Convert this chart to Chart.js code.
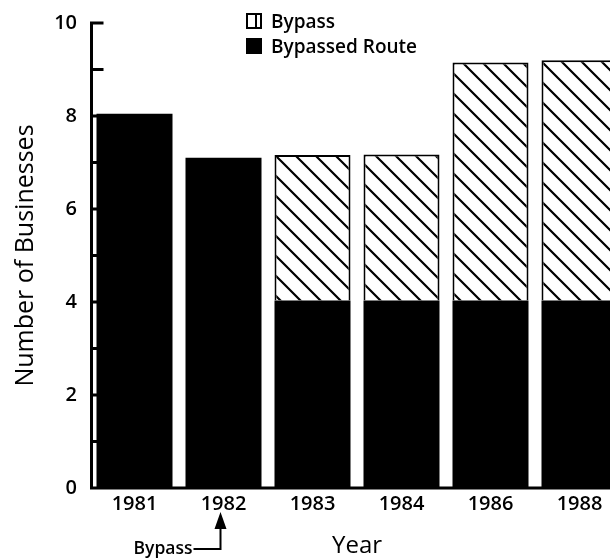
<!DOCTYPE html>
<html>
<head>
<meta charset="utf-8">
<script src="https://cdn.jsdelivr.net/npm/chart.js@4/dist/chart.umd.min.js"></script>
<style>
  html, body { margin: 0; padding: 0; background: #fff; overflow: hidden; width: 610px; height: 558px; }
  canvas { display: block; }
</style>
</head>
<body>
<canvas id="chart" width="630" height="558"></canvas>
<script>
// data
const years = ['1981', '1982', '1983', '1984', '1986', '1988'];
const bypassedRoute = [8.05, 7.1, 4.03, 4.03, 4.03, 4.03];
const bypass = [null, null, 3.13, 3.14, 5.12, 5.17];
const yTicks = [0, 2, 4, 6, 8, 10];
const bypassOpenedIndex = 1; // arrow under 1982
const arrowLabel = 'Bypass';

const FONT = '"Open Sans", "DejaVu Sans", sans-serif';

// diagonal hatch like the print
function makeHatch() {
    const c = document.createElement('canvas');
    c.width = 20; c.height = 20;
    const g = c.getContext('2d');
    g.fillStyle = '#fff';
    g.fillRect(0, 0, 20, 20);
    g.strokeStyle = '#000';
    g.lineWidth = 2.2;
    g.beginPath();
    g.moveTo(-5, -5); g.lineTo(25, 25);
    g.moveTo(-5, 15); g.lineTo(5, 25);
    g.moveTo(15, -5); g.lineTo(25, 5);
    g.stroke();
    return g.createPattern(c, 'repeat');
}

// axis lines, inward ticks, legend and the bypass arrow
const decorations = {
    id: 'decorations',
    afterDraw(chart) {
        const ctx = chart.ctx;
        const area = chart.chartArea;
        const y = chart.scales.y;
        const x = chart.scales.x;
        ctx.save();
        ctx.strokeStyle = '#000';
        ctx.lineWidth = 3;

        // y axis and ticks
        const ax = area.left + 1.5;
        ctx.beginPath();
        ctx.moveTo(ax, y.getPixelForValue(10) - 1.5);
        ctx.lineTo(ax, y.getPixelForValue(0) + 1.5);
        for (let v = 0; v <= 10; v++) {
            const py = y.getPixelForValue(v);
            ctx.moveTo(ax, py);
            ctx.lineTo(ax + 12, py);
        }
        // baseline
        const by = y.getPixelForValue(0);
        ctx.moveTo(area.left, by);
        ctx.lineTo(area.right, by);
        ctx.stroke();

        // legend
        const items = [chart.data.datasets[1], chart.data.datasets[0]];
        ctx.font = '600 19px ' + FONT;
        ctx.textBaseline = 'middle';
        ctx.textAlign = 'left';
        ctx.fillStyle = '#000';
        items.forEach((ds, i) => {
            const top = 14 + i * 25;
            if (i === 0) {
                ctx.fillStyle = '#fff';
                ctx.fillRect(247, top, 14, 14);
                ctx.lineWidth = 2;
                ctx.strokeRect(247, top, 14, 14);
                ctx.beginPath();
                ctx.moveTo(256, top);
                ctx.lineTo(256, top + 14);
                ctx.stroke();
            } else {
                ctx.fillStyle = '#000';
                ctx.fillRect(246, top - 1, 16, 16);
            }
            ctx.fillStyle = '#000';
            ctx.fillText(ds.label, 271, top + 9);
        });

        // bypass arrow under 1982
        const axp = x.getPixelForValue(bypassOpenedIndex) - 3;
        ctx.lineWidth = 2;
        ctx.beginPath();
        ctx.moveTo(axp, 527);
        ctx.lineTo(axp, 549);
        ctx.lineTo(axp - 27, 549);
        ctx.stroke();
        ctx.beginPath();
        ctx.moveTo(axp, 512);
        ctx.lineTo(axp - 6, 529);
        ctx.lineTo(axp + 6, 529);
        ctx.closePath();
        ctx.fill();
        ctx.font = '600 17.5px ' + FONT;
        ctx.textAlign = 'right';
        ctx.fillText(arrowLabel, axp - 28, 549);
        ctx.restore();
    }
};

const ctx = document.getElementById('chart').getContext('2d');
new Chart(ctx, {
    type: 'bar',
    data: {
        labels: years,
        datasets: [
            {
                label: 'Bypassed Route',
                data: bypassedRoute,
                backgroundColor: '#000',
                borderWidth: 0
            },
            {
                label: 'Bypass',
                data: bypass,
                backgroundColor: makeHatch(),
                borderColor: '#000',
                borderWidth: 2
            }
        ]
    },
    options: {
        responsive: false,
        animation: false,
        layout: { padding: { top: 22, right: 6, left: 0, bottom: 0 } },
        datasets: { bar: { categoryPercentage: 1, barPercentage: 0.854 } },
        plugins: { legend: { display: false }, tooltip: { enabled: false } },
        scales: {
            x: {
                stacked: true,
                grid: { display: false, drawTicks: false },
                border: { display: false },
                ticks: { color: '#000', padding: 4, font: { family: FONT, size: 20, weight: '600' } },
                title: { display: true, text: 'Year', color: '#000', padding: { top: 0, bottom: 0 }, font: { family: FONT, size: 24, lineHeight: 1 } },
                afterFit(s) { s.height = 70; }
            },
            y: {
                stacked: true,
                min: 0,
                max: 10,
                grid: { display: false, drawTicks: false },
                border: { display: false },
                ticks: {
                    stepSize: 1,
                    color: '#000',
                    padding: 13,
                    font: { family: FONT, size: 20, weight: '600', lineHeight: 1 },
                    callback: v => yTicks.includes(v) ? String(v) : ''
                },
                title: { display: true, text: 'Number of Businesses', color: '#000', padding: { top: 11, bottom: 0 }, font: { family: FONT, size: 25 } },
                afterFit(s) { s.width = 90; }
            }
        }
    },
    plugins: [decorations]
});
</script>
</body>
</html>
